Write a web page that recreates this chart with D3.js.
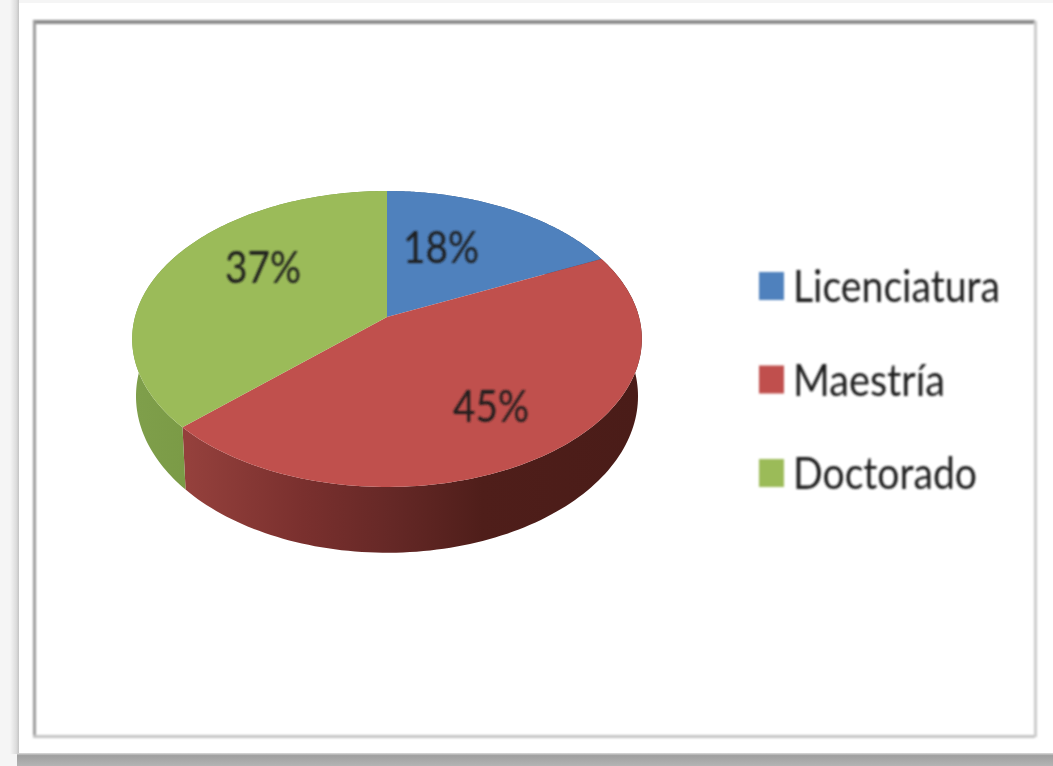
<!DOCTYPE html>
<html>
<head>
<meta charset="utf-8">
<script src="https://cdn.jsdelivr.net/npm/d3@7"></script>
<style>
  html, body { margin: 0; padding: 0; background: #f5f5f5; overflow: hidden; }
  svg { display: block; }
  text { font-family: Lato, "Noto Sans", sans-serif; fill: #1c1c1c; }
</style>
</head>
<body>
<svg id="chart" width="1053" height="766"></svg>
<script>
// Chart data
const categories = ['Licenciatura', 'Maestría', 'Doctorado'];
const shares = [18, 45, 37];
const colors = ['#4f81bd', '#c0504d', '#9bbb59'];

const width = 1053;
const height = 766;

const svg = d3.select('#chart');
const defs = svg.append('defs');

// The photo is a bit soft, so text and edges get a slight blur
defs.append('filter').attr('id', 'soft')
  .append('feGaussianBlur').attr('stdDeviation', 1);

function addGradient(id, x1, y1, x2, y2, stops, userSpace) {
  const g = defs.append('linearGradient')
    .attr('id', id)
    .attr('x1', x1).attr('y1', y1).attr('x2', x2).attr('y2', y2);
  if (userSpace) g.attr('gradientUnits', 'userSpaceOnUse');
  stops.forEach(([offset, color]) => {
    g.append('stop').attr('offset', offset).attr('stop-color', color);
  });
}

addGradient('shadowBottom', 0, 0, 0, 1, [[0, '#dcdcdc'], [0.2, '#a0a0a0'], [1, '#b4b4b4']]);
addGradient('shadowLeft', 0, 0, 1, 0, [[0, '#f5f5f5'], [0.7, '#dcdcdc'], [1, '#c4c4c4']]);
// Sides of the cake: the light falls off from left to right
addGradient('sideRed', 190, 0, 640, 0, [[0, '#94403c'], [0.25, '#7a302e'], [0.45, '#652826'], [0.65, '#4f1e1a'], [1, '#4a1c18']], true);
addGradient('sideGreen', 134, 0, 194, 0, [[0, '#7f9f4b'], [1, '#7a9a45']], true);
addGradient('sideBlue', 387, 0, 640, 0, [[0, '#3a6090'], [1, '#2c4a70']], true);
const sideFills = ['url(#sideBlue)', 'url(#sideRed)', 'url(#sideGreen)'];

// Paper, shadow and card
svg.append('rect').attr('width', width).attr('height', height).attr('fill', '#f5f5f5');
svg.append('rect').attr('x', 10).attr('y', 0).attr('width', 9).attr('height', 754).attr('fill', 'url(#shadowLeft)');
svg.append('rect').attr('x', 19).attr('y', 3).attr('width', width - 19).attr('height', 750).attr('fill', '#ffffff');
svg.append('rect').attr('x', 17).attr('y', 753).attr('width', width - 17).attr('height', 13).attr('fill', 'url(#shadowBottom)');

// Chart border, darker on the top and left like in the photo
const border = svg.append('g').attr('filter', 'url(#soft)');
border.append('rect').attr('x', 33).attr('y', 20).attr('width', 1002).attr('height', 4).attr('fill', '#8c8c8c');
border.append('rect').attr('x', 33).attr('y', 21).attr('width', 3).attr('height', 716).attr('fill', '#9c9c9c');
border.append('rect').attr('x', 33).attr('y', 735).attr('width', 1002).attr('height', 3).attr('fill', '#c4c4c4');
border.append('rect').attr('x', 1034).attr('y', 21).attr('width', 3).attr('height', 716).attr('fill', '#cccccc');

// Perspective of the pie: disc coordinates go to the screen through these scales
const tilt = 0.1486;
const xScale = d3.scaleLinear().domain([-1, 1]).range([387 - 252, 387 + 252]);
const yScale = d3.scaleLinear().domain([-1, 1]).range([317 - 144.7, 317 + 144.7]);
const depth = 56;
const lowerRimShrink = 0.985;

function project(angle, r, drop) {
  const u = Math.sin(angle) * r;
  const v = -Math.cos(angle) * r;
  const w = 1 - tilt * v;
  // The lower rim of the cake is further from the eye, so a bit narrower
  const shrink = drop ? lowerRimShrink : 1;
  return [xScale(shrink * u / w), yScale(v / w) + (drop || 0) / w];
}

const arcs = d3.pie().sort(null)(shares);
const line = d3.line();

function rim(startAngle, endAngle, drop) {
  return d3.range(0, 121).map((i) => project(startAngle + (endAngle - startAngle) * i / 120, 1, drop));
}

const pie = svg.append('g').attr('class', 'pie').style('filter', 'blur(0.6px)');

// Sides first, the top surface is painted over them
pie.selectAll('.side')
  .data(arcs)
  .enter()
  .append('path')
  .attr('class', 'side')
  .attr('fill', (d, i) => sideFills[i])
  .attr('d', (d) => {
    const top = rim(d.startAngle, d.endAngle, 0);
    const bottom = rim(d.startAngle, d.endAngle, depth).reverse();
    return `${line(top.concat(bottom))}Z`;
  });

pie.selectAll('.slice')
  .data(arcs)
  .enter()
  .append('path')
  .attr('class', 'slice')
  .attr('fill', (d, i) => colors[i])
  .attr('d', (d) => {
    const center = project(0, 0, 0);
    return `${line([center].concat(rim(d.startAngle, d.endAngle, 0)))}Z`;
  });

// Percent labels, placed where the chart had them
const labelSpots = [[441, 263], [491, 422], [263, 283]];
svg.selectAll('.pct')
  .data(shares)
  .enter()
  .append('text')
  .attr('class', 'pct')
  .attr('x', (d, i) => labelSpots[i][0])
  .attr('y', (d, i) => labelSpots[i][1])
  .attr('text-anchor', 'middle')
  .attr('font-size', 44)
  .attr('textLength', 76)
  .attr('lengthAdjust', 'spacingAndGlyphs')
  .attr('filter', 'url(#soft)')
  .text((d) => `${d}%`);

// Legend
const legendY = d3.scalePoint().domain(categories).range([286, 473]);
const legend = svg.selectAll('.legend')
  .data(categories)
  .enter()
  .append('g')
  .attr('class', 'legend')
  .attr('transform', (d) => `translate(759,${legendY(d)})`);

legend.append('rect')
  .attr('x', 0)
  .attr('y', -14)
  .attr('width', 25)
  .attr('height', 28)
  .attr('fill', (d, i) => colors[i])
  .attr('filter', 'url(#soft)');

const legendWidths = [207, 152, 184];
legend.append('text')
  .attr('x', 34)
  .attr('y', 16)
  .attr('font-size', 44)
  .attr('textLength', (d, i) => legendWidths[i])
  .attr('lengthAdjust', 'spacingAndGlyphs')
  .attr('filter', 'url(#soft)')
  .text((d) => d);
</script>
</body>
</html>
